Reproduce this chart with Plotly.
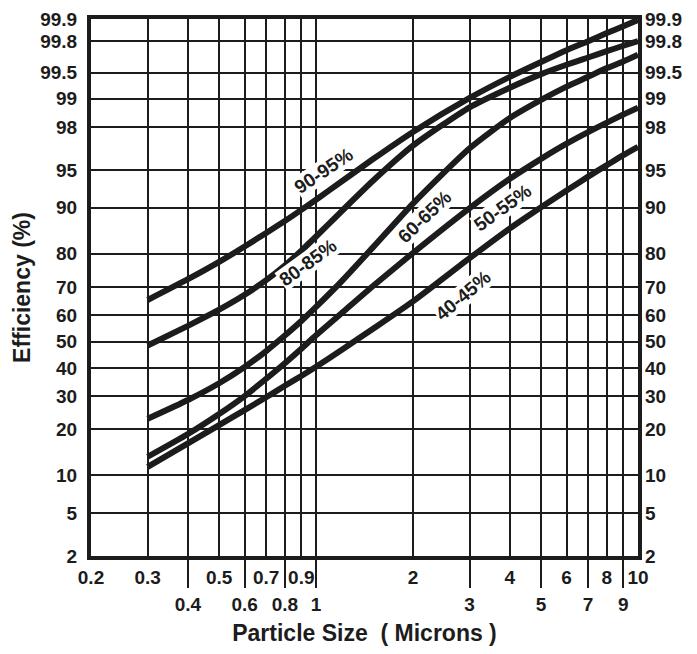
import math
from statistics import NormalDist
import plotly.graph_objects as go

_nd = NormalDist()


def probit(p):
    return _nd.inv_cdf(p / 100.0)


# ---------------- data ----------------
particle_size = [0.3, 0.4, 0.5, 0.6, 0.7, 0.8, 0.9, 1.0, 1.2, 1.5, 2, 3, 4, 5, 6, 7, 8, 9, 10]

eff_90_95 = [65.5, 72.5, 77.75, 81.9, 85.1, 87.6, 89.65, 91.3, 93.74, 95.96, 97.77, 99.02, 99.44, 99.63, 99.737, 99.80, 99.844, 99.874, 99.897]
eff_80_85 = [48.5, 56.0, 62.0, 67.3, 72.2, 76.7, 80.8, 84.3, 89.4, 93.8, 96.97, 98.76, 99.25, 99.48, 99.6, 99.675, 99.73, 99.77, 99.8]
eff_60_65 = [23.0, 28.8, 34.5, 40.4, 46.4, 52.3, 57.8, 63.0, 71.8, 81.6, 90.7, 96.8, 98.39, 98.97, 99.27, 99.44, 99.56, 99.635, 99.70]
eff_50_55 = [13.5, 18.8, 24.4, 30.1, 36.1, 41.8, 47.3, 52.4, 60.7, 70.2, 80.2, 89.95, 94.06, 96.0, 97.1, 97.76, 98.2, 98.52, 98.75]
eff_40_45 = [11.5, 16.5, 21.2, 25.6, 29.7, 33.6, 37.1, 40.5, 46.8, 54.8, 65.0, 78.8, 86.1, 90.1, 92.6, 94.3, 95.45, 96.3, 96.9]

series_names = ["90-95%", "80-85%", "60-65%", "50-55%", "40-45%"]
series_values = [eff_90_95, eff_80_85, eff_60_65, eff_50_55, eff_40_45]

# label anchors (particle size, efficiency %) and text angle
label_size = [1.06, 0.944, 2.18, 3.81, 2.86]
label_eff = [94.9, 77.6, 88.4, 90.0, 67.2]
label_angle = [-34, -36, -44, -36, -40]

y_ticks = [2, 5, 10, 20, 30, 40, 50, 60, 70, 80, 90, 95, 98, 99, 99.5, 99.8, 99.9]
y_tick_text = ["2", "5", "10", "20", "30", "40", "50", "60", "70", "80", "90", "95", "98", "99", "99.5", "99.8", "99.9"]

x_ticks_row1 = [0.2, 0.3, 0.5, 0.7, 0.9, 2, 4, 6, 8, 10]
x_text_row1 = ["0.2", "0.3", "0.5", "0.7", "0.9", "2", "4", "6", "8", "10"]
x_ticks_row2 = [0.4, 0.6, 0.8, 1, 3, 5, 7, 9]
x_text_row2 = ["0.4", "0.6", "0.8", "1", "3", "5", "7", "9"]

# ---------------- figure ----------------
INK = "#1c1c1c"
FONT = "Liberation Sans"

fig = go.Figure()

for name, vals in zip(series_names, series_values):
    fig.add_trace(go.Scatter(
        x=particle_size, y=[probit(v) for v in vals], name=name,
        mode="lines", line=dict(color=INK, width=6, shape="spline", smoothing=0.6),
        hoverinfo="skip", showlegend=False,
    ))

# helper traces so the overlay axes are drawn
fig.add_trace(go.Scatter(x=[], y=[], xaxis="x2", yaxis="y", showlegend=False, hoverinfo="skip"))
fig.add_trace(go.Scatter(x=[], y=[], xaxis="x", yaxis="y2", showlegend=False, hoverinfo="skip"))

for txt, xs, ye, ang in zip(series_names, label_size, label_eff, label_angle):
    fig.add_annotation(
        x=math.log10(xs), y=probit(ye), xref="x", yref="y", text=txt, showarrow=False,
        textangle=ang, bgcolor="white", borderpad=0,
        font=dict(family=FONT, size=19, color=INK, weight="bold"),
    )

yrange = [probit(2), probit(99.9)]
xrange = [math.log10(0.2), 1]

tick_font = dict(family=FONT, size=19, color=INK, weight="bold")
title_font = dict(family=FONT, size=23, color=INK, weight="bold")

fig.update_layout(
    width=689, height=646,
    margin=dict(l=83, r=59, t=11, b=98),
    paper_bgcolor="white", plot_bgcolor="white",
    showlegend=False,
    font=dict(family=FONT, size=19, color=INK, weight="bold"),
    xaxis=dict(
        type="log", range=xrange, tickvals=x_ticks_row1, ticktext=x_text_row1,
        showgrid=True, gridcolor=INK, gridwidth=2,
        showline=True, linecolor=INK, linewidth=4, mirror=True,
        ticks="", zeroline=False, ticklabelstandoff=1, automargin=False,
        ticklabeloverflow="allow", tickfont=tick_font,
    ),
    xaxis2=dict(
        type="log", range=xrange, overlaying="x", side="bottom", anchor="y",
        tickvals=x_ticks_row2, ticktext=x_text_row2,
        showgrid=True, gridcolor=INK, gridwidth=2, showline=False, zeroline=False,
        ticks="outside", ticklen=31, tickwidth=2, tickcolor=INK, automargin=False,
        ticklabeloverflow="allow", tickfont=tick_font,
        title=dict(text="Particle Size\u00a0\u00a0( Microns )", standoff=11, font=title_font),
    ),
    yaxis=dict(
        range=yrange, tickvals=[probit(v) for v in y_ticks], ticktext=y_tick_text,
        showgrid=True, gridcolor=INK, gridwidth=2,
        showline=True, linecolor=INK, linewidth=4, mirror=True,
        ticks="", zeroline=False, ticklabelstandoff=6, automargin=False,
        ticklabeloverflow="allow", tickfont=tick_font,
        title=dict(text="Efficiency (%)", standoff=4, font=title_font),
    ),
    yaxis2=dict(
        range=yrange, overlaying="y", side="right", anchor="x",
        tickvals=[probit(v) for v in y_ticks], ticktext=y_tick_text,
        showgrid=False, showline=False, zeroline=False, ticks="",
        ticklabelstandoff=6, automargin=False,
        ticklabeloverflow="allow", tickfont=tick_font,
    ),
)

fig.write_html("out.html")
